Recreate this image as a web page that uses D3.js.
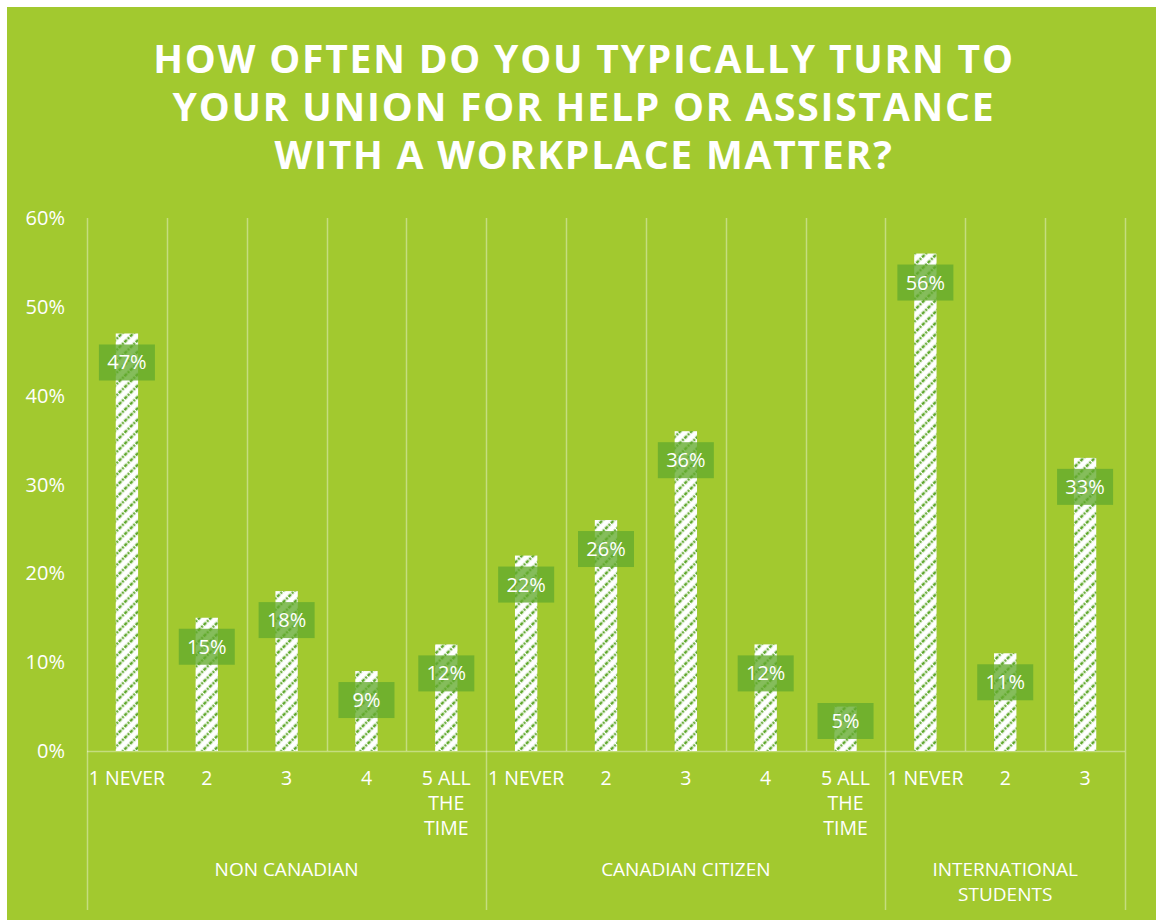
<!DOCTYPE html>
<html>
<head>
<meta charset="utf-8">
<script src="https://cdn.jsdelivr.net/npm/d3@7"></script>
<style>
  html, body { margin: 0; padding: 0; background: #ffffff; }
  svg { display: block; }
  text { font-family: "Open Sans", "DejaVu Sans", sans-serif; fill: #ffffff; }
</style>
</head>
<body>
<svg id="chart" width="1156" height="920"></svg>
<script>
// Survey answers, grouped by respondent status
const titleLines = ["HOW OFTEN DO YOU TYPICALLY TURN TO", "YOUR UNION FOR HELP OR ASSISTANCE", "WITH A WORKPLACE MATTER?"];
const groups = ["NON CANADIAN", "CANADIAN CITIZEN", "INTERNATIONAL STUDENTS"];
const groupLabelLines = [["NON CANADIAN"], ["CANADIAN CITIZEN"], ["INTERNATIONAL", "STUDENTS"]];
const nonCanadianAnswers = ["1 NEVER", "2", "3", "4", "5 ALL THE TIME"];
const canadianCitizenAnswers = ["1 NEVER", "2", "3", "4", "5 ALL THE TIME"];
const internationalStudentAnswers = ["1 NEVER", "2", "3"];
const nonCanadianValues = [47, 15, 18, 9, 12];
const canadianCitizenValues = [22, 26, 36, 12, 5];
const internationalStudentValues = [56, 11, 33];
const yTicks = [0, 10, 20, 30, 40, 50, 60];

const answerSets = [nonCanadianAnswers, canadianCitizenAnswers, internationalStudentAnswers];
const valueSets = [nonCanadianValues, canadianCitizenValues, internationalStudentValues];
const rows = [];
answerSets.forEach((answers, g) => {
  answers.forEach((a, i) => rows.push({ key: g + "-" + i, group: g, answer: a, value: valueSets[g][i], first: i === 0 }));
});

const svg = d3.select("#chart");
const bg = "#a2c92f";

svg.append("rect").attr("x", 7).attr("y", 7).attr("width", 1149).attr("height", 913).attr("fill", bg);

// diagonal hatch for the bars
const defs = svg.append("defs");
const pat = defs.append("pattern").attr("id", "hatch").attr("patternUnits", "userSpaceOnUse")
  .attr("width", 8).attr("height", 8).attr("patternTransform", "rotate(45)");
pat.append("rect").attr("width", 8).attr("height", 8).attr("fill", "#ffffff");
pat.append("line").attr("x1", 2).attr("y1", 0).attr("x2", 2).attr("y2", 8)
  .attr("stroke", "#5fa82c").attr("stroke-width", 2.6).attr("stroke-dasharray", "2 1.2");

const plotLeft = 87, plotRight = 1125, plotTop = 218, baseY = 751, plotBottom = 910;

const x = d3.scaleBand().domain(rows.map(d => d.key)).range([plotLeft, plotRight]).padding(0);
const y = d3.scaleLinear().domain([0, 60]).range([baseY, plotTop]);

// title
const title = svg.append("text").attr("text-anchor", "middle")
  .attr("font-weight", 700).attr("font-size", 39).attr("letter-spacing", 1.8);
titleLines.forEach((t, i) => {
  title.append("tspan").attr("x", 584).attr("y", 73 + i * 48).text(t);
});

// y axis labels
svg.append("g").selectAll("text").data(yTicks).join("text")
  .attr("x", 65).attr("y", d => y(d) + 7)
  .attr("text-anchor", "end").attr("font-size", 20)
  .text(d => d + "%");

const lineCol = "rgba(255,255,255,0.38)";
const grid = svg.append("g");
// category separators
const bounds = rows.map(d => ({ x: x(d.key), groupStart: d.first }));
bounds.push({ x: plotRight, groupStart: true });
grid.selectAll("line.sep").data(bounds).join("line")
  .attr("x1", d => Math.round(d.x) + 0.5).attr("x2", d => Math.round(d.x) + 0.5)
  .attr("y1", plotTop).attr("y2", d => d.groupStart ? plotBottom : baseY)
  .attr("stroke", lineCol).attr("stroke-width", 1.5);
// baseline
grid.append("line").attr("x1", plotLeft).attr("x2", plotRight).attr("y1", baseY + 0.5).attr("y2", baseY + 0.5)
  .attr("stroke", lineCol).attr("stroke-width", 1.5);

// bars
const barW = x.bandwidth() * 0.28;
svg.append("g").selectAll("rect").data(rows).join("rect")
  .attr("x", d => x(d.key) + x.bandwidth() / 2 - barW / 2)
  .attr("width", barW)
  .attr("y", d => y(d.value))
  .attr("height", d => baseY - y(d.value))
  .attr("fill", "url(#hatch)");

// value labels
const lab = svg.append("g").selectAll("g").data(rows).join("g")
  .attr("transform", d => {
    const cy = Math.min(y(d.value) + 29, baseY - 30);
    return `translate(${x(d.key) + x.bandwidth() / 2},${cy})`;
  });
lab.append("rect").attr("x", -28).attr("y", -18).attr("width", 56).attr("height", 36)
  .attr("fill", "#63aa2d").attr("fill-opacity", 0.78);
lab.append("text").attr("text-anchor", "middle").attr("y", 7).attr("font-size", 20)
  .text(d => d.value + "%");

// category labels (wrapped)
const catWrap = a => a === "5 ALL THE TIME" ? ["5 ALL", "THE", "TIME"] : [a];
const cat = svg.append("g").selectAll("text").data(rows).join("text")
  .attr("text-anchor", "middle").attr("font-size", 19.5);
cat.each(function (d) {
  const t = d3.select(this);
  catWrap(d.answer).forEach((line, i) => {
    t.append("tspan").attr("x", x(d.key) + x.bandwidth() / 2).attr("y", 785 + i * 25).text(line);
  });
});

// group labels
groups.forEach((g, gi) => {
  const keys = rows.filter(r => r.group === gi);
  const cx = (x(keys[0].key) + x(keys[keys.length - 1].key) + x.bandwidth()) / 2;
  const t = svg.append("text").attr("text-anchor", "middle").attr("font-size", 19);
  groupLabelLines[gi].forEach((line, i) => {
    t.append("tspan").attr("x", cx).attr("y", 876 + i * 25).text(line);
  });
});
</script>
</body>
</html>
